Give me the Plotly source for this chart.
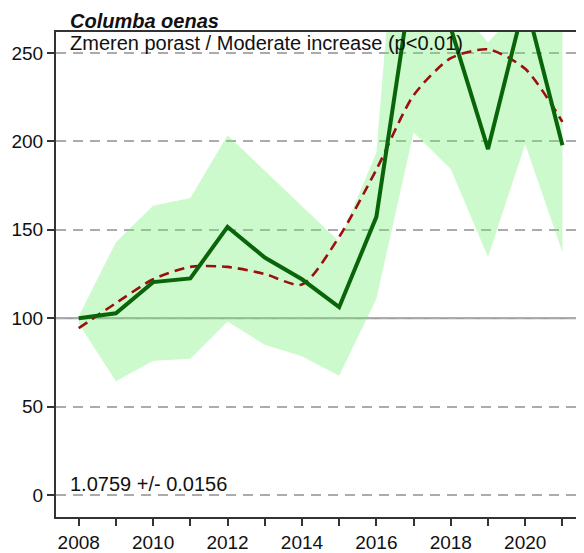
import plotly.graph_objects as go

# values
years = list(range(2008, 2022))
index_vals = [100, 102.8, 120.4, 122.5, 151.6, 134.3, 122, 106.2, 157.3, 297, 264, 195.6, 280, 197.8]
trend_vals = [94.4, 108.5, 122, 129, 129, 125, 119, 146, 184, 226, 247, 252, 241, 211]
ci_upper = [101, 143, 163.5, 168, 203.4, 183.3, 163.3, 143.4, 193.7, 450, 280, 256, 278, 320]
ci_lower = [97, 64.4, 76, 77, 98.1, 85, 78.5, 67.4, 111, 205, 184.3, 134.6, 198.4, 137.4]

y_ticks = [0, 50, 100, 150, 200, 250]
x_labels = [str(y) if y % 2 == 0 else "" for y in years]

species = "Columba oenas"
trend_text = "Zmeren porast / Moderate increase (p<0.01)"
slope_text = "1.0759 +/- 0.0156"

FONT = "Liberation Sans, Arial, sans-serif"

fig = go.Figure()

# confidence band
fig.add_trace(go.Scatter(x=years, y=ci_upper, mode="lines", line=dict(width=0),
                         showlegend=False, hoverinfo="skip"))
fig.add_trace(go.Scatter(x=years, y=ci_lower, mode="lines", line=dict(width=0),
                         fill="tonexty", fillcolor="rgba(110,240,110,0.35)",
                         showlegend=False, hoverinfo="skip"))

# smoothed trend
fig.add_trace(go.Scatter(x=years, y=trend_vals, mode="lines",
                         line=dict(color="#9b0f0f", width=2.6, dash="10px,6px",
                                   shape="spline", smoothing=0.7),
                         showlegend=False))
# index
fig.add_trace(go.Scatter(x=years, y=index_vals, mode="lines",
                         line=dict(color="#0a650a", width=4),
                         showlegend=False))

# solid baseline at 100
fig.add_shape(type="line", xref="paper", x0=0, x1=1, yref="y", y0=100, y1=100,
              line=dict(color="#9a9a9a", width=2), layer="between")

fig.add_annotation(text=f"<b><i>{species}</i></b>", xref="paper", yref="paper",
                   x=0.0227, y=1, xanchor="left", yanchor="bottom", yshift=-2,
                   showarrow=False, font=dict(family=FONT, size=20, color="#111"))
fig.add_annotation(text=trend_text, xref="paper", yref="y",
                   x=0.0227, y=255.6, xanchor="left", yanchor="middle",
                   showarrow=False, font=dict(family=FONT, size=20, color="#111"))
fig.add_annotation(text=slope_text, xref="paper", yref="y",
                   x=0.0227, y=6.5, xanchor="left", yanchor="middle",
                   showarrow=False, font=dict(family=FONT, size=20, color="#111"))

fig.update_xaxes(range=[2007.39, 2021.58], tickvals=years, ticktext=x_labels,
                 ticks="outside", ticklen=7, tickwidth=2, tickcolor="#333",
                 showline=True, linecolor="#333", linewidth=2, mirror=True,
                 showgrid=False, zeroline=False,
                 tickfont=dict(family=FONT, size=19, color="#111"))
fig.update_yaxes(range=[-12.4, 261.8], tickvals=y_ticks,
                 ticks="outside", ticklen=7, tickwidth=2, tickcolor="#333",
                 showline=True, linecolor="#333", linewidth=2,
                 showgrid=True, gridcolor="#ababab", gridwidth=2, griddash="10px,7px",
                 zeroline=False,
                 tickfont=dict(family=FONT, size=19, color="#111"))

# page body has an 8px default margin, so the figure is 8px smaller and offset
fig.update_layout(width=576, height=545,
                  margin=dict(l=48, r=0, t=24, b=34),
                  plot_bgcolor="white", paper_bgcolor="white")

fig.write_html("out.html")
